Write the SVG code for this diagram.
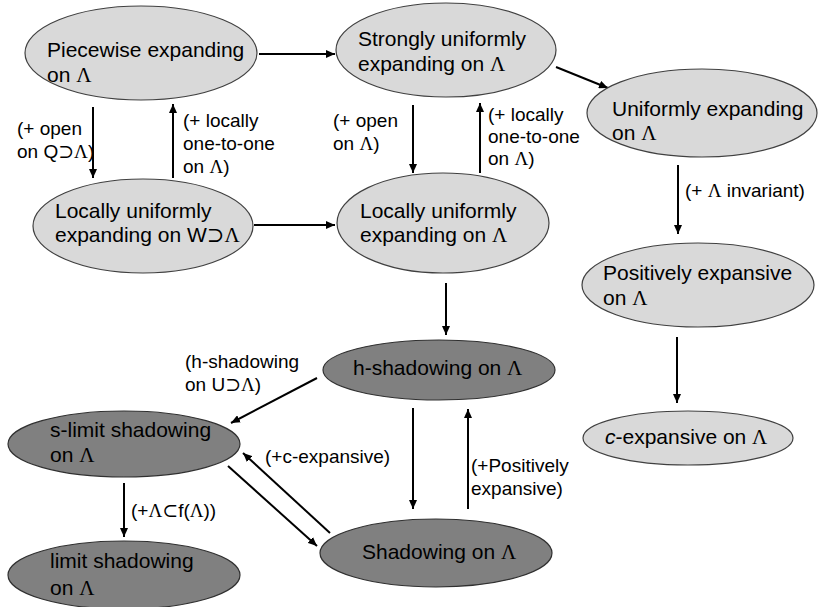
<svg xmlns="http://www.w3.org/2000/svg" width="818" height="607" viewBox="0 0 818 607">
<style>
.bg{fill:#ffffff}
.light{fill:#d9d9d9;stroke:#404040;stroke-width:1.2}
.dark{fill:#808080;stroke:#303030;stroke-width:1.2}
.nt{font-family:"Liberation Sans",Arial,sans-serif;font-size:21px;fill:#000}
.lt{font-family:"Liberation Sans",Arial,sans-serif;font-size:19px;fill:#000}
.sym{font-family:"Liberation Serif","DejaVu Serif",serif}
.edge{stroke:#000;stroke-width:2;fill:none;marker-end:url(#ah)}
</style>
<defs>
<marker id="ah" markerUnits="userSpaceOnUse" markerWidth="10" markerHeight="8" refX="9" refY="4" orient="auto">
<path d="M0,0 L9,4 L0,8 z" fill="#000"/>
</marker>
</defs>
<rect class="bg" x="0" y="0" width="818" height="607"/>

<g id="connectors">
<line class="edge" x1="259" y1="54" x2="335" y2="54"/>
<line class="edge" x1="556" y1="67" x2="608" y2="88"/>
<line class="edge" x1="93" y1="107" x2="93" y2="178"/>
<line class="edge" x1="173" y1="178" x2="173" y2="104"/>
<line class="edge" x1="413" y1="105" x2="413" y2="173"/>
<line class="edge" x1="480" y1="173" x2="480" y2="103"/>
<line class="edge" x1="254" y1="225" x2="335" y2="225"/>
<line class="edge" x1="678" y1="165" x2="678" y2="234"/>
<line class="edge" x1="446" y1="283" x2="446" y2="335"/>
<line class="edge" x1="677" y1="337" x2="677" y2="403"/>
<line class="edge" x1="317" y1="378" x2="231" y2="423"/>
<line class="edge" x1="413" y1="408" x2="413" y2="509"/>
<line class="edge" x1="468" y1="509" x2="468" y2="409"/>
<line class="edge" x1="228" y1="466" x2="317" y2="546"/>
<line class="edge" x1="330" y1="533" x2="243" y2="453"/>
<line class="edge" x1="124" y1="483" x2="124" y2="537"/>
</g>

<g id="labels">
<text class="lt" x="17" y="135">(+ open</text>
<text class="lt" x="17" y="158">on Q<tspan class="sym">⊃Λ</tspan>)</text>
<text class="lt" x="183" y="127">(+ locally</text>
<text class="lt" x="183" y="150">one-to-one</text>
<text class="lt" x="183" y="173">on <tspan class="sym">Λ</tspan>)</text>
<text class="lt" x="333" y="127">(+ open</text>
<text class="lt" x="333" y="150">on <tspan class="sym">Λ</tspan>)</text>
<text class="lt" x="488" y="121">(+ locally</text>
<text class="lt" x="488" y="143">one-to-one</text>
<text class="lt" x="488" y="165">on <tspan class="sym">Λ</tspan>)</text>
<text class="lt" x="685" y="197">(+ <tspan class="sym">Λ</tspan> invariant)</text>
<text class="lt" x="185" y="368">(h-shadowing</text>
<text class="lt" x="185" y="391">on U<tspan class="sym">⊃Λ</tspan>)</text>
<text class="lt" x="265" y="463">(+c-expansive)</text>
<text class="lt" x="471" y="472">(+Positively</text>
<text class="lt" x="471" y="495">expansive)</text>
<text class="lt" x="131" y="517">(+<tspan class="sym">Λ⊂</tspan>f(<tspan class="sym">Λ</tspan>))</text>
</g>

<g id="n-piecewise">
<ellipse class="light" cx="141" cy="53" rx="116" ry="47"/>
<text class="nt" x="47" y="57">Piecewise expanding</text>
<text class="nt" x="47" y="82">on <tspan class="sym">Λ</tspan></text>
</g>
<g id="n-strongly">
<ellipse class="light" cx="446" cy="50" rx="110" ry="47"/>
<text class="nt" x="358" y="46">Strongly uniformly</text>
<text class="nt" x="358" y="71">expanding on <tspan class="sym">Λ</tspan></text>
</g>
<g id="n-uniformly">
<ellipse class="light" cx="702" cy="113" rx="115" ry="44"/>
<text class="nt" x="612" y="116">Uniformly expanding</text>
<text class="nt" x="612" y="140">on <tspan class="sym">Λ</tspan></text>
</g>
<g id="n-locW">
<ellipse class="light" cx="143" cy="226" rx="110" ry="47"/>
<text class="nt" x="55" y="218">Locally uniformly</text>
<text class="nt" x="55" y="242">expanding on W<tspan class="sym">⊃Λ</tspan></text>
</g>
<g id="n-loc">
<ellipse class="light" cx="443" cy="223" rx="106" ry="50"/>
<text class="nt" x="360" y="218">Locally uniformly</text>
<text class="nt" x="360" y="242">expanding on <tspan class="sym">Λ</tspan></text>
</g>
<g id="n-posexp">
<ellipse class="light" cx="698" cy="285" rx="116" ry="42"/>
<text class="nt" x="603" y="280">Positively expansive</text>
<text class="nt" x="603" y="305">on <tspan class="sym">Λ</tspan></text>
</g>
<g id="n-cexp">
<ellipse class="light" cx="688" cy="438" rx="105" ry="27"/>
<text class="nt" x="605" y="444"><tspan font-style="italic">c</tspan>-expansive on <tspan class="sym">Λ</tspan></text>
</g>
<g id="n-hshad">
<ellipse class="dark" cx="439" cy="370" rx="116" ry="30"/>
<text class="nt" x="353" y="375">h-shadowing on <tspan class="sym">Λ</tspan></text>
</g>
<g id="n-slimit">
<ellipse class="dark" cx="124" cy="444" rx="116" ry="33"/>
<text class="nt" x="50" y="437">s-limit shadowing</text>
<text class="nt" x="50" y="462">on <tspan class="sym">Λ</tspan></text>
</g>
<g id="n-shad">
<ellipse class="dark" cx="436" cy="553" rx="116" ry="34"/>
<text class="nt" x="362" y="559">Shadowing on <tspan class="sym">Λ</tspan></text>
</g>
<g id="n-limit">
<ellipse class="dark" cx="124" cy="575" rx="116" ry="34"/>
<text class="nt" x="50" y="568">limit shadowing</text>
<text class="nt" x="50" y="595">on <tspan class="sym">Λ</tspan></text>
</g>
</svg>
